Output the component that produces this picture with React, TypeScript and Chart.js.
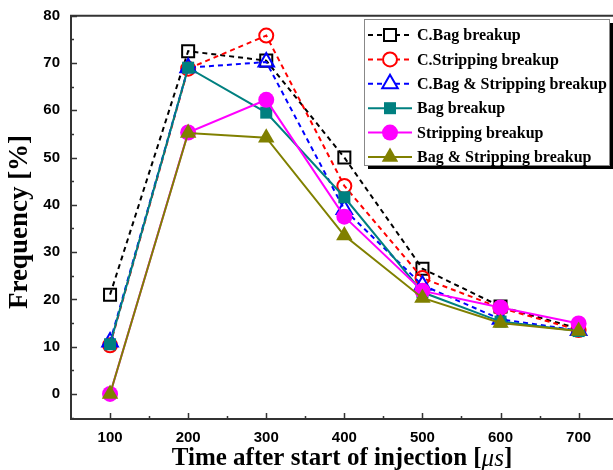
import React, { useEffect, useRef } from "react";
import { Chart, registerables } from "chart.js";
Chart.register(...registerables);

const xValues = [100, 200, 300, 400, 500, 600, 700];
const cBag = [21, 72.5, 70.5, 50, 26.5, 18.5, 13.8];
const cStrip = [10.3, 68.8, 75.8, 44, 24.5, 18.2, 13.5];
const cBagStrip = [11, 69, 70.2, 39, 23, 15.8, 13.4];
const bag = [10.5, 69, 59.5, 41.6, 21.5, 15.3, 13.3];
const strip = [0, 55.3, 62.2, 37.5, 21.8, 18.3, 14.9];
const bagStrip = [0, 55.2, 54.2, 33.5, 20.3, 15, 13.3];

const xTicks = [100, 200, 300, 400, 500, 600, 700];
const xMinor = [150, 250, 350, 450, 550, 650];
const yTicks = [0, 10, 20, 30, 40, 50, 60, 70, 80];
const yMinor = [-5, 5, 15, 25, 35, 45, 55, 65, 75];

const seriesNames = [
  "C.Bag breakup",
  "C.Stripping breakup",
  "C.Bag & Stripping breakup",
  "Bag breakup",
  "Stripping breakup",
  "Bag & Stripping breakup",
];
const seriesValues = [cBag, cStrip, cBagStrip, bag, strip, bagStrip];
const seriesColors = ["#000000", "#ff0000", "#0000ff", "#008080", "#ff00ff", "#808000"];
const seriesStyles = ["rect", "circle", "triangle", "rect", "circle", "triangle"];
const seriesFilled = [false, false, false, true, true, true];
const seriesRadius = [8.5, 7, 9, 8.5, 8, 9.5];

const SERIF = '"Liberation Serif", "Times New Roman", serif';
const SANS = '"Liberation Sans", Arial, sans-serif';

function drawMarker(ctx: CanvasRenderingContext2D, style: string, x: number, y: number, r: number, color: string, filled: boolean) {
  ctx.save();
  ctx.setLineDash([]);
  ctx.beginPath();
  if (style === "rect") {
    const s = Math.SQRT1_2 * r;
    ctx.rect(x - s, y - s, 2 * s, 2 * s);
  } else if (style === "circle") {
    ctx.arc(x, y, r, 0, Math.PI * 2);
  } else {
    const h = r * 1.5;
    const w = r * Math.sqrt(3);
    ctx.moveTo(x, y - r);
    ctx.lineTo(x + w / 2, y - r + h);
    ctx.lineTo(x - w / 2, y - r + h);
    ctx.closePath();
  }
  if (filled) {
    ctx.fillStyle = color;
    ctx.fill();
  } else {
    ctx.fillStyle = "#ffffff";
    ctx.fill();
    ctx.strokeStyle = color;
    ctx.lineWidth = 2;
    ctx.stroke();
  }
  ctx.restore();
}

const framePlugin = {
  id: "frameDeco",
  afterDraw(chart: any) {
    const ctx: CanvasRenderingContext2D = chart.ctx;
    const a = chart.chartArea;
    const xs = chart.scales.x;
    const ys = chart.scales.y;
    ctx.save();
    ctx.strokeStyle = "#333333";
    ctx.lineWidth = 2;
    ctx.beginPath();
    ctx.moveTo(a.right + 5, a.top);
    ctx.lineTo(a.left, a.top);
    ctx.lineTo(a.left, a.bottom);
    ctx.lineTo(a.right + 5, a.bottom);
    ctx.stroke();
    ctx.lineWidth = 1.5;
    ctx.beginPath();
    xTicks.forEach((v) => {
      const p = Math.round(xs.getPixelForValue(v)) + 0.5;
      ctx.moveTo(p, a.bottom);
      ctx.lineTo(p, a.bottom - 6);
    });
    xMinor.forEach((v) => {
      const p = Math.round(xs.getPixelForValue(v)) + 0.5;
      ctx.moveTo(p, a.bottom);
      ctx.lineTo(p, a.bottom - 3);
    });
    yTicks.forEach((v) => {
      const p = Math.round(ys.getPixelForValue(v)) + 0.5;
      ctx.moveTo(a.left, p);
      ctx.lineTo(a.left + 6, p);
    });
    yMinor.forEach((v) => {
      const p = Math.round(ys.getPixelForValue(v)) + 0.5;
      ctx.moveTo(a.left, p);
      ctx.lineTo(a.left + 3, p);
    });
    ctx.stroke();

    // axis titles
    ctx.fillStyle = "#000000";
    ctx.font = `bold 27px ${SERIF}`;
    ctx.textBaseline = "middle";
    ctx.textAlign = "center";
    ctx.save();
    ctx.translate(20, 222);
    ctx.rotate(-Math.PI / 2);
    ctx.fillText("Frequency [%]", 0, 0);
    ctx.restore();

    const p1 = "Time after start of injection [";
    const p2 = "\u03bcs";
    const p3 = "]";
    const fBold = `bold 25px ${SERIF}`;
    const fIt = `italic 25px ${SERIF}`;
    ctx.font = fBold;
    const w1 = ctx.measureText(p1).width;
    const w3 = ctx.measureText(p3).width;
    ctx.font = fIt;
    const w2 = ctx.measureText(p2).width;
    const total = w1 + w2 + w3;
    let sx = 342 - total / 2;
    const ty = 459;
    ctx.textAlign = "left";
    ctx.font = fBold;
    ctx.fillText(p1, sx, ty);
    sx += w1;
    ctx.font = fIt;
    ctx.fillText(p2, sx, ty);
    sx += w2;
    ctx.font = fBold;
    ctx.fillText(p3, sx, ty);

    // legend
    const lx = 364, ly = 19, lw = 245, lh = 146;
    ctx.fillStyle = "#000000";
    ctx.fillRect(lx + 4, ly + 4, lw, lh);
    ctx.fillStyle = "#ffffff";
    ctx.fillRect(lx, ly, lw, lh);
    ctx.strokeStyle = "#888888";
    ctx.lineWidth = 1;
    ctx.strokeRect(lx + 0.5, ly + 0.5, lw, lh);
    const rowH = 24.4;
    seriesNames.forEach((name, i) => {
      const cy = ly + 16 + i * rowH;
      ctx.save();
      ctx.strokeStyle = seriesColors[i];
      ctx.lineWidth = 2;
      if (!seriesFilled[i]) ctx.setLineDash([5, 4]);
      ctx.beginPath();
      ctx.moveTo(368, cy);
      ctx.lineTo(412, cy);
      ctx.stroke();
      ctx.restore();
      drawMarker(ctx, seriesStyles[i], 390, cy, seriesRadius[i], seriesColors[i], seriesFilled[i]);
      ctx.fillStyle = "#000000";
      ctx.font = `bold 16px ${SERIF}`;
      ctx.textAlign = "left";
      ctx.textBaseline = "middle";
      ctx.fillText(name, 417, cy + 1);
    });
    ctx.restore();
  },
};

export default function App() {
  const ref = useRef<HTMLCanvasElement | null>(null);
  useEffect(() => {
    if (!ref.current) return;
    const datasets = seriesNames.map((name, i) => ({
      label: name,
      data: xValues.map((x, j) => ({ x, y: seriesValues[i][j] })),
      borderColor: seriesColors[i],
      backgroundColor: seriesFilled[i] ? seriesColors[i] : "#ffffff",
      pointBorderColor: seriesColors[i],
      pointBackgroundColor: seriesFilled[i] ? seriesColors[i] : "rgba(255,255,255,0)",
      pointStyle: seriesStyles[i],
      pointRadius: seriesRadius[i],
      pointBorderWidth: seriesFilled[i] ? 0 : 2,
      borderWidth: 2,
      borderDash: seriesFilled[i] ? [] : [5, 4],
      tension: 0,
      fill: false,
      order: 6 - i,
      clip: false as any,
    }));
    const chart = new Chart(ref.current, {
      type: "line",
      data: { datasets },
      options: {
        animation: false,
        responsive: false,
        maintainAspectRatio: false,
        layout: { autoPadding: false, padding: { top: 15.7, right: 0, left: 0, bottom: 0 } },
        plugins: { legend: { display: false }, tooltip: { enabled: false } },
        scales: {
          x: {
            type: "linear",
            min: 50,
            max: 744,
            grid: { display: false, drawTicks: false },
            border: { display: false },
            ticks: {
              color: "#000",
              font: { family: SANS, weight: "bold", size: 15 },
              padding: 10,
              maxRotation: 0,
            },
            afterBuildTicks: (s: any) => {
              s.ticks = xTicks.map((v) => ({ value: v }));
            },
            afterFit: (s: any) => {
              s.height = 51;
              s.paddingLeft = 0;
              s.paddingRight = 0;
              s.paddingTop = 0;
              s.paddingBottom = 0;
            },
          },
          y: {
            type: "linear",
            min: -5.3,
            max: 80,
            grid: { display: false, drawTicks: false },
            border: { display: false },
            ticks: {
              color: "#000",
              font: { family: SANS, weight: "bold", size: 15 },
              padding: 11,
            },
            afterBuildTicks: (s: any) => {
              s.ticks = yTicks.map((v) => ({ value: v }));
            },
            afterFit: (s: any) => {
              s.width = 71;
              s.paddingLeft = 0;
              s.paddingRight = 0;
              s.paddingTop = 0;
              s.paddingBottom = 0;
            },
          },
        },
      },
      plugins: [framePlugin],
    } as any);
    return () => chart.destroy();
  }, []);
  return (
    <div style={{ position: "fixed", left: 0, top: 0, width: 613, height: 470, background: "#fff" }}>
      <canvas ref={ref} width={613} height={470} style={{ width: 613, height: 470 }} />
    </div>
  );
}
